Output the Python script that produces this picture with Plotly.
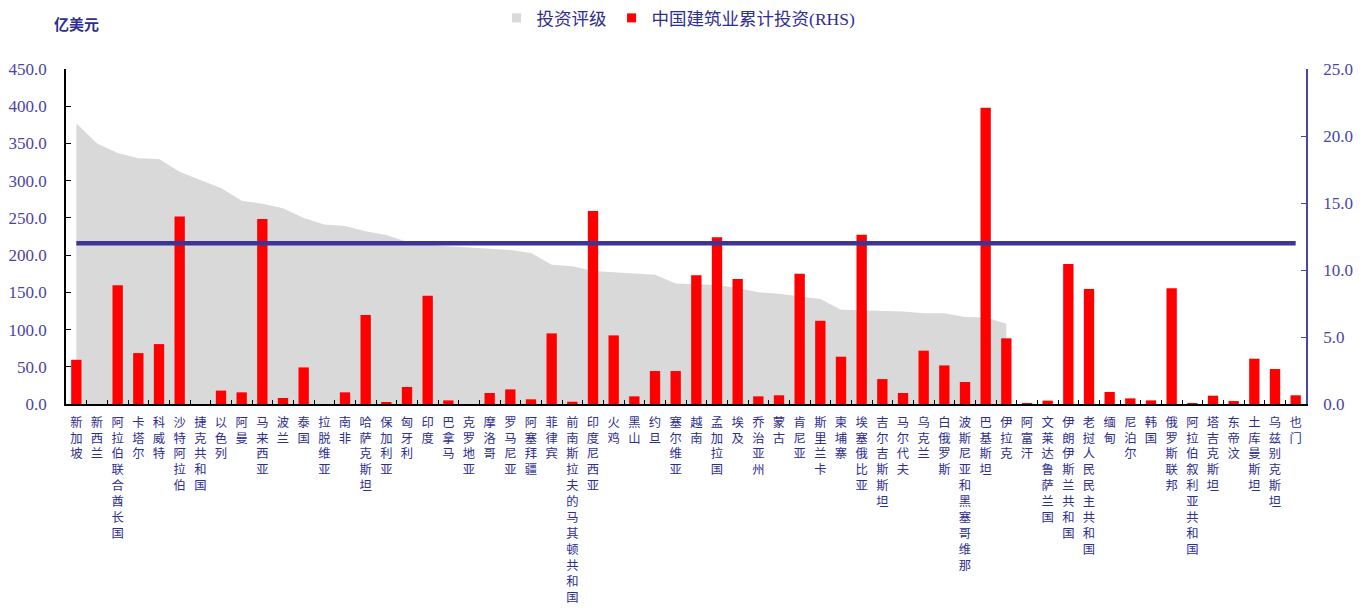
import plotly.graph_objects as go

countries = ["新加坡", "新西兰", "阿拉伯联合酋长国", "卡塔尔", "科威特", "沙特阿拉伯", "捷克共和国", "以色列", "阿曼", "马来西亚",
             "波兰", "泰国", "拉脱维亚", "南非", "哈萨克斯坦", "保加利亚", "匈牙利", "印度", "巴拿马", "克罗地亚",
             "摩洛哥", "罗马尼亚", "阿塞拜疆", "菲律宾", "前南斯拉夫的马其顿共和国", "印度尼西亚", "火鸡", "黑山", "约旦", "塞尔维亚",
             "越南", "孟加拉国", "埃及", "乔治亚州", "蒙古", "肯尼亚", "斯里兰卡", "柬埔寨", "埃塞俄比亚", "吉尔吉斯斯坦",
             "马尔代夫", "乌克兰", "白俄罗斯", "波斯尼亚和黑塞哥维那", "巴基斯坦", "伊拉克", "阿富汗", "文莱达鲁萨兰国", "伊朗伊斯兰共和国", "老挝人民民主共和国",
             "缅甸", "尼泊尔", "韩国", "俄罗斯联邦", "阿拉伯叙利亚共和国", "塔吉克斯坦", "东帝汶", "土库曼斯坦", "乌兹别克斯坦", "也门"]

# 投资评级 (left axis, 亿美元)
rating = [377, 350, 337, 330, 329, 312, 301, 290, 273, 269,
          263, 250, 241, 239, 232, 227, 218, 214, 212, 210,
          208, 207, 203, 187, 185, 178.5, 177, 175, 173.6, 162,
          161.5, 160, 155.7, 150, 148, 144.5, 141, 126.6, 125.7, 125.7,
          124.4, 122, 122, 116.8, 116.3, 107.8, None, None, None, None,
          None, None, None, None, None, None, None, None, None, None]

# 中国建筑业累计投资 (RHS)
china_inv = [3.3, 0.0, 8.87, 3.8, 4.47, 14.0, 0.0, 1.0, 0.87, 13.8,
             0.45, 2.73, 0.0, 0.87, 6.64, 0.1, 1.27, 8.08, 0.27, 0.0,
             0.82, 1.09, 0.35, 5.27, 0.17, 14.4, 5.12, 0.57, 2.46, 2.46,
             9.6, 12.45, 9.32, 0.57, 0.65, 9.72, 6.21, 3.53, 12.63, 1.86,
             0.82, 3.98, 2.88, 1.64, 22.1, 4.9, 0.07, 0.25, 10.44, 8.58,
             0.9, 0.42, 0.27, 8.63, 0.07, 0.62, 0.22, 3.38, 2.61, 0.65]

benchmark_rhs = 12.0

left_ticks = [0, 50, 100, 150, 200, 250, 300, 350, 400, 450]
right_ticks = [0, 5, 10, 15, 20, 25]

tick_text = ["<br>".join(c) for c in countries]

navy = "#2E2E8F"
axis_blue = "#4A44A6"
serif_cjk = "Liberation Serif, Noto Sans CJK SC"

fig = go.Figure()
fig.add_trace(go.Scatter(
    x=countries, y=rating, name="投资评级", mode="lines",
    line=dict(width=0, color="#D9D9D9"), fill="tozeroy", fillcolor="#D9D9D9",
    yaxis="y", connectgaps=False, showlegend=False))
# legend entry for the area
fig.add_trace(go.Scatter(
    x=[None], y=[None], name="投资评级", mode="markers",
    marker=dict(symbol="square", size=9, color="#D9D9D9"), yaxis="y"))
fig.add_trace(go.Bar(
    x=countries, y=china_inv, name="中国建筑业累计投资(RHS)",
    marker=dict(color="#FF0000", line=dict(width=0)), width=0.5, yaxis="y2", showlegend=False))
fig.add_trace(go.Scatter(
    x=[None], y=[None], name="中国建筑业累计投资(RHS)", mode="markers",
    marker=dict(symbol="square", size=9, color="#FF0000"), yaxis="y2"))
fig.add_trace(go.Scatter(
    x=countries, y=[benchmark_rhs] * len(countries), mode="lines",
    line=dict(color="#3D3494", width=4.5), yaxis="y2", showlegend=False))

fig.update_layout(
    width=1368, height=612,
    margin=dict(l=66, r=62, t=69, b=208),
    plot_bgcolor="white", paper_bgcolor="white",
    showlegend=True,
    legend=dict(orientation="h", x=0.494, xanchor="center", y=1.0, yref="container", yanchor="top",
                font=dict(family=serif_cjk, size=17.5, color=navy),
                itemwidth=30, tracegroupgap=0, bgcolor="rgba(0,0,0,0)"),
    xaxis=dict(
        type="category", range=[-0.5, len(countries) - 0.5], automargin=False,
        tickmode="array", tickvals=countries, ticktext=tick_text,
        tickangle=0, tickson="boundaries", ticks="inside", ticklen=4, tickcolor="black",
        showline=True, linecolor="black", linewidth=1.5, showgrid=False,
        tickfont=dict(family="Noto Sans CJK SC", size=12.3, color=navy),
        ticklabelstandoff=6,
    ),
    yaxis=dict(
        range=[0, 450], tickvals=left_ticks, tickformat=".1f", automargin=False,
        ticks="inside", ticklen=5, tickcolor="black",
        showline=True, linecolor="black", linewidth=1.5, showgrid=False, zeroline=False,
        tickfont=dict(family="Liberation Serif", size=17, color=axis_blue),
        ticklabelstandoff=14,
    ),
    yaxis2=dict(
        range=[0, 25], tickvals=right_ticks, tickformat=".1f", overlaying="y", side="right",
        automargin=False,
        ticks="inside", ticklen=5, tickcolor=axis_blue,
        showline=True, linecolor=axis_blue, linewidth=1.5, showgrid=False, zeroline=False,
        tickfont=dict(family="Liberation Serif", size=17, color=axis_blue),
        ticklabelstandoff=12,
    ),
    bargap=0.5,
)

fig.add_annotation(text="<b>亿美元</b>", xref="paper", yref="paper", x=-0.011, y=1.0, yshift=46,
                   xanchor="left", yanchor="middle", showarrow=False,
                   font=dict(family="Noto Sans CJK SC", size=15, color=navy))

fig.write_html("out.html")
